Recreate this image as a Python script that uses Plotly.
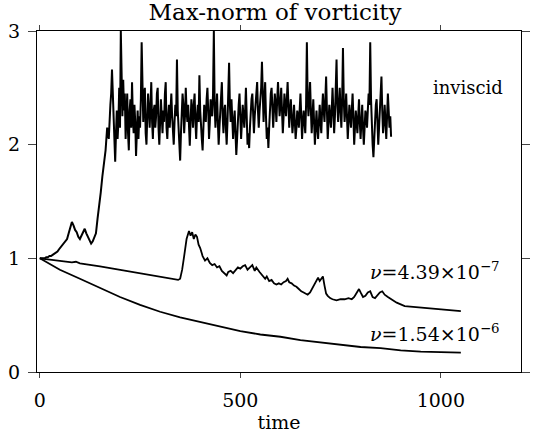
import numpy as np
import plotly.graph_objects as go

# ---- data ----
# inviscid run: every 4 time units from t=0 to 176, then every 2 units from 178 to 876
inv_early = [
    1.00, 1.00, 1.00, 1.00, 1.01, 1.01, 1.02, 1.02, 1.03, 1.04,
    1.05, 1.06, 1.08, 1.10, 1.11, 1.13, 1.15, 1.17, 1.22, 1.28,
    1.32, 1.29, 1.25, 1.23, 1.19, 1.17, 1.20, 1.24, 1.26, 1.22,
    1.19, 1.16, 1.13, 1.15, 1.18, 1.22, 1.35, 1.45, 1.58, 1.72,
    1.85, 1.95, 2.15, 2.05, 2.35,
]
inv_late = [
    2.45, 2.66, 2.40, 2.20, 1.95, 1.85, 2.10, 2.30, 2.05, 2.20, 2.50, 2.15, 3.00, 2.40, 2.25, 2.57, 2.30, 2.45, 2.05, 2.25,
    2.45, 2.10, 1.95, 2.30, 2.40, 2.15, 2.55, 2.25, 2.10, 2.35, 2.20, 1.90, 2.15, 2.30, 2.05, 2.25, 2.15, 2.40, 2.90, 2.35,
    2.20, 2.45, 2.50, 2.10, 2.00, 2.25, 2.45, 2.30, 2.15, 2.35, 2.55, 2.20, 2.05, 2.30, 2.35, 2.15, 2.25, 2.45, 2.50, 2.15,
    2.00, 2.20, 2.40, 2.25, 2.10, 2.30, 2.20, 2.45, 2.55, 2.15, 2.05, 2.25, 2.35, 2.15, 2.30, 2.45, 2.25, 2.10, 2.00, 2.20,
    2.35, 2.25, 2.75, 2.30, 2.15, 2.00, 1.86, 2.10, 2.30, 2.45, 2.35, 2.10, 2.25, 2.50, 2.30, 2.20, 2.35, 2.10, 1.99, 2.20,
    2.40, 2.30, 2.15, 2.35, 2.45, 2.20, 2.05, 2.25, 2.35, 2.20, 2.61, 2.30, 2.10, 2.05, 1.95, 2.20, 2.35, 2.25, 2.20, 2.40,
    2.50, 2.30, 2.05, 2.20, 2.40, 2.30, 2.25, 2.45, 3.00, 2.35, 2.15, 2.30, 2.45, 2.20, 2.00, 2.15, 2.30, 2.40, 2.55, 2.25,
    2.10, 2.30, 2.35, 2.15, 2.00, 2.20, 2.40, 2.72, 2.35, 2.20, 2.40, 2.25, 2.05, 2.20, 2.30, 2.10, 1.91, 2.05, 2.25, 2.35,
    2.45, 2.30, 2.05, 2.20, 2.35, 2.25, 2.15, 2.30, 2.50, 2.25, 2.00, 2.10, 1.97, 2.15, 2.30, 2.40, 2.45, 2.25, 2.10, 2.25,
    2.35, 2.45, 2.55, 2.30, 2.15, 2.30, 2.40, 2.50, 2.73, 2.35, 2.20, 2.40, 2.55, 2.25, 2.05, 2.15, 1.97, 2.15, 2.35, 2.45,
    2.50, 2.35, 2.15, 2.30, 2.45, 2.35, 2.20, 2.40, 2.55, 2.40, 2.25, 2.35, 2.50, 2.30, 2.10, 2.25, 2.45, 2.35, 2.25, 2.40,
    2.55, 2.35, 2.15, 2.30, 2.40, 2.25, 2.10, 2.20, 2.35, 2.20, 2.05, 2.15, 2.30, 2.25, 2.15, 2.30, 2.45, 2.25, 2.05, 2.20,
    2.30, 2.20, 2.10, 2.35, 2.90, 2.40, 2.25, 2.40, 2.55, 2.30, 2.10, 2.25, 2.40, 2.20, 2.00, 2.15, 2.30, 2.15, 2.05, 2.20,
    2.35, 2.20, 2.10, 2.30, 2.45, 2.30, 2.20, 2.40, 2.60, 2.30, 2.05, 2.20, 2.35, 2.25, 2.15, 2.30, 2.50, 2.30, 2.10, 2.25,
    2.45, 2.75, 2.35, 2.20, 2.35, 2.50, 2.30, 2.15, 2.40, 2.85, 2.40, 2.20, 2.30, 2.45, 2.25, 2.05, 2.20, 2.35, 2.25, 2.15,
    2.30, 2.45, 2.25, 2.00, 2.15, 2.30, 2.20, 2.10, 2.25, 2.40, 2.20, 2.05, 2.20, 2.35, 2.15, 2.00, 2.15, 2.30, 2.25, 2.15,
    2.30, 2.45, 2.35, 2.90, 2.40, 2.10, 2.00, 1.89, 2.10, 2.25, 2.35, 2.40, 2.20, 2.00, 2.15, 2.30, 2.45, 2.60, 2.30, 2.10,
    2.20, 2.35, 2.20, 2.05, 2.25, 2.45, 2.30, 2.15, 2.25, 2.07,
]
inv_t = np.concatenate([np.arange(len(inv_early)) * 4,
                        178 + np.arange(len(inv_late)) * 2])
inv_v = inv_early + inv_late

# nu = 4.39e-7
mid_t = [0, 40, 80, 90, 100, 150, 200, 250, 300, 345, 350, 355, 360, 366, 372, 376,
         380, 384, 388, 392, 396, 400, 406, 412, 418, 424, 430, 436, 442, 448, 454,
         460, 466, 470, 476, 482, 488, 494, 500, 506, 512, 518, 524, 530, 536,
         540, 548, 556, 562, 566, 572, 578, 584, 590, 596, 602, 608, 614, 618, 622,
         628, 634, 640, 646, 652, 658, 664, 668, 674, 680, 686, 690, 694, 698, 702,
         706, 710, 714, 718, 724, 730, 740, 750, 760, 770, 778, 784, 790, 796, 800,
         806, 812, 818, 824, 830, 836, 842, 848, 854, 860, 868, 876, 890, 910, 940,
         970, 1000, 1030, 1050]
mid_v = [1.00, 0.985, 0.965, 0.97, 0.955, 0.93, 0.90, 0.87, 0.84, 0.81, 0.82, 0.90, 1.02, 1.17, 1.24, 1.20,
         1.23, 1.17, 1.21, 1.19, 1.12, 1.09, 1.02, 0.98, 1.00, 0.96, 0.94, 0.95, 0.92, 0.93, 0.89,
         0.87, 0.85, 0.88, 0.89, 0.87, 0.90, 0.92, 0.91, 0.93, 0.94, 0.90, 0.92, 0.94, 0.89,
         0.92, 0.88, 0.85, 0.82, 0.84, 0.80, 0.81, 0.78, 0.77, 0.78, 0.77, 0.79, 0.80, 0.82, 0.79,
         0.78, 0.76, 0.75, 0.73, 0.71, 0.70, 0.69, 0.68, 0.70, 0.74, 0.79, 0.81, 0.83, 0.80, 0.82,
         0.84, 0.76, 0.69, 0.67, 0.65, 0.64, 0.63, 0.64, 0.64, 0.65, 0.64, 0.66, 0.69, 0.73, 0.70,
         0.66, 0.67, 0.70, 0.71, 0.66, 0.65, 0.68, 0.70, 0.71, 0.68, 0.66, 0.64, 0.61, 0.58, 0.57,
         0.565, 0.555, 0.545, 0.535]

# nu = 1.54e-6
low_t = [0, 25, 50, 100, 150, 200, 250, 300, 350, 400, 450, 500, 550, 600, 650, 700,
         750, 800, 850, 900, 950, 1000, 1050]
low_v = [1.00, 0.95, 0.90, 0.82, 0.74, 0.66, 0.59, 0.53, 0.48, 0.44, 0.40, 0.36, 0.33, 0.31,
         0.28, 0.26, 0.24, 0.22, 0.21, 0.19, 0.18, 0.175, 0.17]

x_ticks = [0, 500, 1000]
y_ticks = [0, 1, 2, 3]

FONT = "DejaVu Serif"

fig = go.Figure()
fig.add_trace(go.Scatter(x=inv_t, y=inv_v, mode="lines",
                         line=dict(color="black", width=2.0)))
fig.add_trace(go.Scatter(x=mid_t, y=mid_v, mode="lines",
                         line=dict(color="black", width=1.8)))
fig.add_trace(go.Scatter(x=low_t, y=low_v, mode="lines",
                         line=dict(color="black", width=1.8)))

fig.add_annotation(x=1068, y=2.5, text="inviscid", showarrow=False,
                   font=dict(family=FONT, size=18, color="black"))
fig.add_annotation(x=985, y=0.89, text="<i>ν</i>=4.39×10<sup>−7</sup>", showarrow=False,
                   font=dict(family=FONT, size=19, color="black"))
fig.add_annotation(x=985, y=0.34, text="<i>ν</i>=1.54×10<sup>−6</sup>", showarrow=False,
                   font=dict(family=FONT, size=19, color="black"))

fig.update_layout(
    width=534, height=436,
    margin=dict(l=37, r=4, t=31, b=64),
    paper_bgcolor="white", plot_bgcolor="white",
    showlegend=False,
    title=dict(text="Max-norm of vorticity", x=0.515, xref="container", xanchor="center",
               y=0.972, yref="container", yanchor="middle",
               font=dict(family=FONT, size=23, color="black")),
    font=dict(family=FONT, color="black"),
)
fig.update_xaxes(range=[-7, 1200], tickvals=x_ticks, ticks="outside", ticklen=5,
                 showline=True, linecolor="black", linewidth=1, mirror="ticks",
                 showgrid=False, zeroline=False, ticklabelstandoff=6,
                 tickfont=dict(family=FONT, size=19, color="black"),
                 title=dict(text="time", font=dict(family=FONT, size=19, color="black"), standoff=2))
fig.update_yaxes(range=[0, 3], tickvals=y_ticks, ticks="outside", ticklen=8,
                 showline=True, linecolor="black", linewidth=1, mirror="ticks",
                 showgrid=False, zeroline=False, ticklabelstandoff=4,
                 tickfont=dict(family=FONT, size=19, color="black"))

fig.write_html("out.html")
